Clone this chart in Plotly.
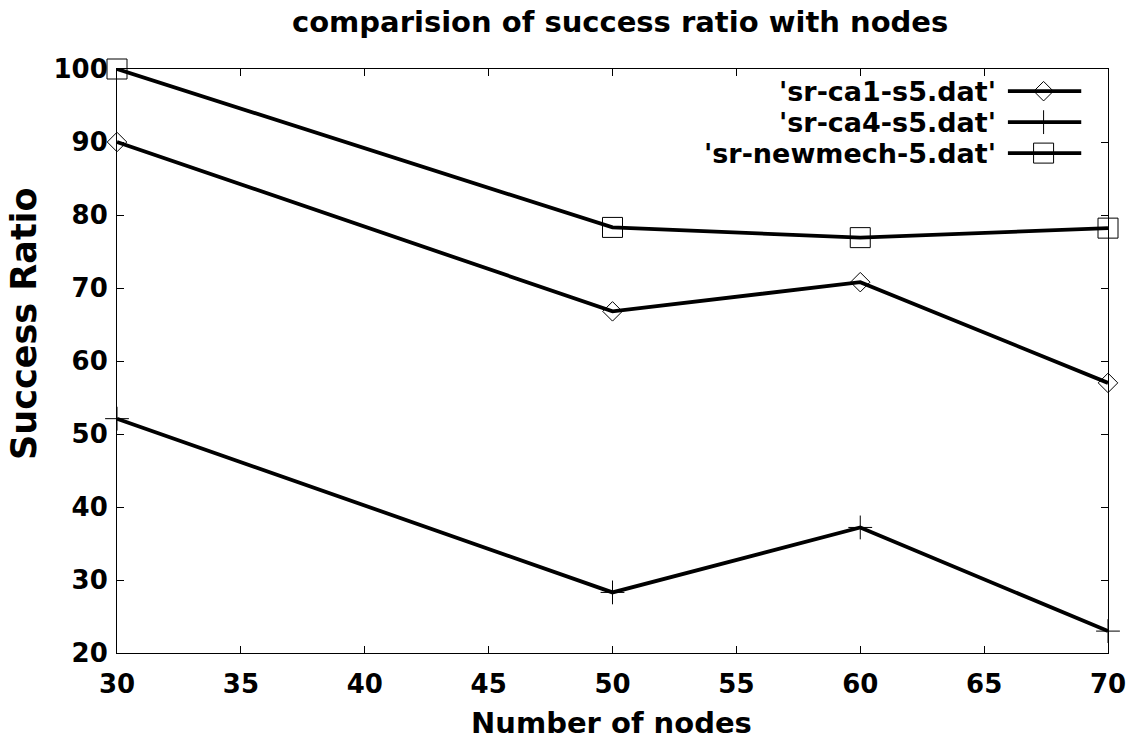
import plotly.graph_objects as go

nodes = [30, 50, 60, 70]
ca1 = [90, 66.8, 70.8, 57.0]
ca4 = [52.1, 28.3, 37.2, 23.0]
newmech = [100, 78.3, 76.9, 78.2]

names = ["'sr-ca1-s5.dat'", "'sr-ca4-s5.dat'", "'sr-newmech-5.dat'"]
symbols = ["diamond-open", "cross-thin-open", "square-open"]
msizes = [15, 17, 20]
series = [ca1, ca4, newmech]

title_text = "comparision of success ratio with nodes"
xtitle = "Number of nodes"
ytitle = "Success Ratio"

FONT = "DejaVu Sans, Liberation Sans, sans-serif"
fig = go.Figure()

for vals, sym, ms, nm in zip(series, symbols, msizes, names):
    fig.add_trace(go.Scatter(
        x=nodes, y=vals, mode="lines+markers", name=nm, showlegend=False,
        line=dict(color="black", width=3.8),
        marker=dict(symbol=sym, size=ms, color="black", line=dict(width=1, color="black")),
        cliponaxis=False,
    ))

# gnuplot-style key (text on the left, sample on the right)
leg_y = [0.962, 0.909, 0.856]
for nm, sym, ms, ly in zip(names, symbols, msizes, leg_y):
    fig.add_trace(go.Scatter(
        x=[0.899, 0.973], y=[ly, ly], mode="lines", xaxis="x2", yaxis="y2",
        line=dict(color="black", width=3.8), showlegend=False, hoverinfo="skip"))
    fig.add_trace(go.Scatter(
        x=[0.935], y=[ly], mode="markers", xaxis="x2", yaxis="y2",
        marker=dict(symbol=sym, size=ms, color="black", line=dict(width=1, color="black")),
        showlegend=False, hoverinfo="skip"))
    fig.add_annotation(text=nm, x=0.889, y=ly, xref="x2", yref="y2",
                       xanchor="right", yanchor="middle", showarrow=False,
                       font=dict(family=FONT, size=27, color="black", weight="bold"))

fig.add_annotation(text=title_text, xref="paper", yref="paper", x=0.508, y=1.0805,
                   xanchor="center", yanchor="middle", showarrow=False,
                   font=dict(family=FONT, size=29, color="black", weight="bold"))
fig.add_annotation(text=xtitle, xref="paper", yref="paper", x=0.499, y=-0.12,
                   xanchor="center", yanchor="middle", showarrow=False,
                   font=dict(family=FONT, size=29, color="black", weight="bold"))
fig.add_annotation(text=ytitle, xref="paper", yref="paper", x=-0.094, y=0.565,
                   xanchor="center", yanchor="middle", showarrow=False, textangle=-90,
                   font=dict(family=FONT, size=35, color="black", weight="bold"))

axis_common = dict(showgrid=False, zeroline=False, showline=True, linecolor="black",
                   linewidth=1, mirror="ticks", ticks="inside", ticklen=7,
                   tickcolor="black", automargin=False,
                   tickfont=dict(family=FONT, size=26, color="black", weight="bold"))

fig.update_layout(
    width=1132, height=745,
    margin=dict(l=117, r=24, t=69, b=92),
    paper_bgcolor="white", plot_bgcolor="white",
    showlegend=False,
    xaxis=dict(range=[30, 70], tickvals=[30, 35, 40, 45, 50, 55, 60, 65, 70],
               ticklabelstandoff=8, **axis_common),
    yaxis=dict(range=[20, 100], tickvals=[20, 30, 40, 50, 60, 70, 80, 90, 100],
               ticklabelstandoff=3, **axis_common),
    xaxis2=dict(overlaying="x", range=[0, 1], visible=False, fixedrange=True),
    yaxis2=dict(overlaying="y", range=[0, 1], visible=False, fixedrange=True),
)

fig.write_html("out.html")
